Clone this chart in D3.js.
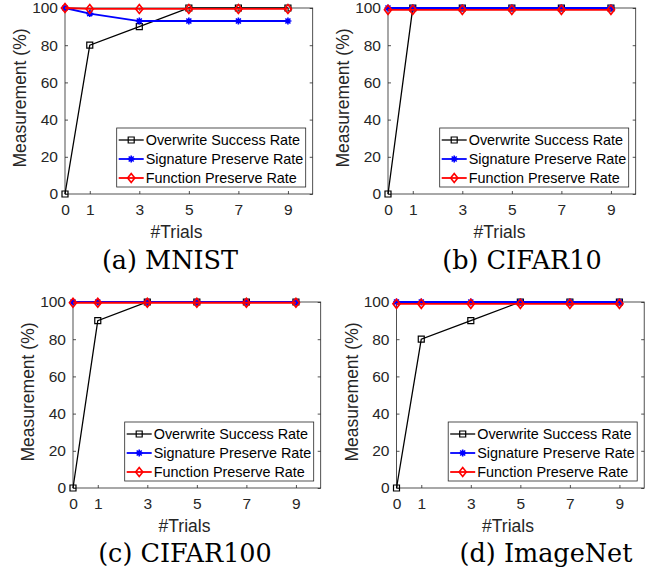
<!DOCTYPE html>
<html lang="en">
<head>
  <meta charset="UTF-8">
  <script src="https://d3js.org/d3.v7.min.js"></script>
  <title>trials</title>
  <style>
    body { margin: 0; background: #fff; }
    .tick line { stroke: #262626; stroke-width: 0.8; }
  </style>
</head>
<body>
  <svg id="fig" width="648" height="577"></svg>
  <script>
    // trials on the x axis
    const trials = [0, 1, 3, 5, 7, 9];
    const yTicks = [0, 20, 40, 60, 80, 100];
    const seriesNames = ["Overwrite Success Rate", "Signature Preserve Rate", "Function Preserve Rate"];
    const captions = ["(a) MNIST", "(b) CIFAR10", "(c) CIFAR100", "(d) ImageNet"];

    const mnistOverwrite = [0, 80, 90, 100, 100, 100];
    const mnistSignature = [100, 97, 93, 93, 93, 93];
    const mnistFunction = [100, 99.5, 99.5, 99.5, 99.5, 99.5];

    const cifar10Overwrite = [0, 100, 100, 100, 100, 100];
    const cifar10Signature = [100, 100, 100, 100, 100, 100];
    const cifar10Function = [99, 99, 99, 99, 99, 99];

    const cifar100Overwrite = [0, 90, 100, 100, 100, 100];
    const cifar100Signature = [100, 100, 100, 100, 100, 100];
    const cifar100Function = [99.6, 99.6, 99.6, 99.6, 99.6, 99.6];

    const imagenetOverwrite = [0, 80, 90, 100, 100, 100];
    const imagenetSignature = [100, 100, 100, 100, 100, 100];
    const imagenetFunction = [99, 99, 99, 99, 99, 99];

    const panels = [
      { caption: captions[0], series: [mnistOverwrite, mnistSignature, mnistFunction], x0: 65, y0: 8, capX: 170, capY: 260 },
      { caption: captions[1], series: [cifar10Overwrite, cifar10Signature, cifar10Function], x0: 388, y0: 8, capX: 522, capY: 260 },
      { caption: captions[2], series: [cifar100Overwrite, cifar100Signature, cifar100Function], x0: 73, y0: 302, capX: 185, capY: 553 },
      { caption: captions[3], series: [imagenetOverwrite, imagenetSignature, imagenetFunction], x0: 396.5, y0: 302, capX: 546, capY: 553 }
    ];

    const colors = ["#000000", "#0000ff", "#ff0000"];
    const widths = [1.3, 1.8, 1.8];
    // marker shapes around (0,0)
    const markers = [
      "M-3,-3h6v6h-6Z",
      "M-3.5,0H3.5M0,-3.5V3.5M-2.5,-2.5L2.5,2.5M-2.5,2.5L2.5,-2.5",
      "M0,-4.5L3.6,0L0,4.5L-3.6,0Z"
    ];

    const plotW = 247.7, plotH = 186;
    const x = d3.scaleLinear().domain([0, 10]).range([0, plotW]);
    const y = d3.scaleLinear().domain([0, 100]).range([plotH, 0]);

    const svg = d3.select("#fig");

    const styleAxis = a => {
      a.select(".domain").remove();
      a.selectAll("text")
        .attr("fill", "#262626")
        .style("font-family", "'Liberation Sans', Arial, sans-serif")
        .style("font-size", "15.5px");
    };

    panels.forEach(p => {
      const g = svg.append("g").attr("transform", `translate(${p.x0},${p.y0})`);

      // axes with inward ticks
      g.append("g").attr("transform", `translate(0,${plotH})`)
        .call(d3.axisBottom(x).tickValues(trials).tickSizeInner(-3).tickSizeOuter(0).tickPadding(10))
        .call(styleAxis);
      g.append("g")
        .call(d3.axisTop(x).tickValues(trials).tickSizeInner(-3).tickSizeOuter(0).tickFormat(""))
        .call(styleAxis);
      g.append("g")
        .call(d3.axisLeft(y).tickValues(yTicks).tickSizeInner(-3).tickSizeOuter(0).tickPadding(7))
        .call(styleAxis);
      g.append("g").attr("transform", `translate(${plotW},0)`)
        .call(d3.axisRight(y).tickValues(yTicks).tickSizeInner(-3).tickSizeOuter(0).tickFormat(""))
        .call(styleAxis);

      g.append("rect").attr("width", plotW).attr("height", plotH)
        .attr("fill", "none").attr("stroke", "#262626").attr("stroke-width", 0.8);

      g.append("text")
        .attr("transform", `translate(-45,${plotH / 2 - 3}) rotate(-90)`)
        .attr("text-anchor", "middle").attr("dy", "0.35em")
        .style("font-family", "'Liberation Sans', Arial, sans-serif").style("font-size", "17.5px")
        .attr("fill", "#262626")
        .text("Measurement (%)");

      g.append("text")
        .attr("x", x(4.5)).attr("y", plotH + 44)
        .attr("text-anchor", "middle")
        .style("font-family", "'Liberation Sans', Arial, sans-serif").style("font-size", "17.5px")
        .attr("fill", "#262626")
        .text("#Trials");

      const lineGen = d3.line().x((d, i) => x(trials[i])).y(d => y(d));

      p.series.forEach((vals, k) => {
        g.append("path").attr("d", lineGen(vals))
          .attr("fill", "none").attr("stroke", colors[k]).attr("stroke-width", widths[k]);
        g.selectAll(null).data(vals).join("path")
          .attr("transform", (d, i) => `translate(${x(trials[i])},${y(d)})`)
          .attr("d", markers[k])
          .attr("fill", "none").attr("stroke", colors[k]).attr("stroke-width", k === 0 ? 1.2 : 1.6);
      });

      // legend
      const lw = 189, lh = 59;
      const leg = g.append("g").attr("transform", `translate(${plotW - 7 - lw},${plotH - 7 - lh})`);
      leg.append("rect").attr("width", lw).attr("height", lh)
        .attr("fill", "#fff").attr("stroke", "#262626").attr("stroke-width", 0.8);
      seriesNames.forEach((name, k) => {
        const ry = 12 + k * 19;
        leg.append("line").attr("x1", 2).attr("x2", 27).attr("y1", ry).attr("y2", ry)
          .attr("stroke", colors[k]).attr("stroke-width", widths[k]);
        leg.append("path").attr("transform", `translate(14.5,${ry})`).attr("d", markers[k])
          .attr("fill", "none").attr("stroke", colors[k]).attr("stroke-width", k === 0 ? 1.2 : 1.6);
        leg.append("text").attr("x", 29).attr("y", ry).attr("dy", "0.35em")
          .style("font-family", "'Liberation Sans', Arial, sans-serif").style("font-size", "14.4px")
          .attr("fill", "#000")
          .text(name);
      });

      svg.append("text")
        .attr("x", p.capX).attr("y", p.capY).attr("dy", "0.35em")
        .attr("text-anchor", "middle")
        .style("font-family", "'DejaVu Serif', serif").style("font-size", "25.5px")
        .attr("fill", "#000")
        .text(p.caption);
    });
  </script>
</body>
</html>
